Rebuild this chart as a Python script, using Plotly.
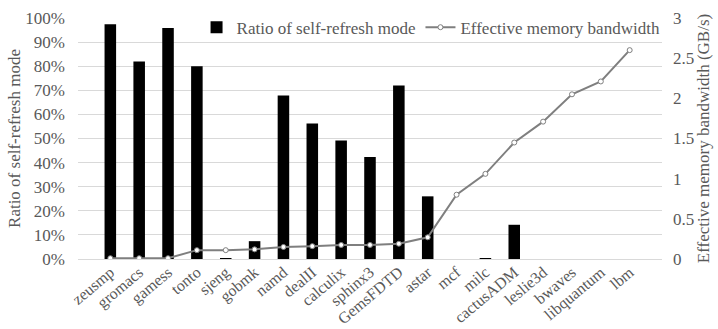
import plotly.graph_objects as go

benchmarks = ["zeusmp", "gromacs", "gamess", "tonto", "sjeng", "gobmk", "namd", "dealII",
              "calculix", "sphinx3", "GemsFDTD", "astar", "mcf", "milc", "cactusADM",
              "leslie3d", "bwaves", "libquantum", "lbm"]
self_refresh_ratio = [0.974, 0.820, 0.958, 0.800, 0.004, 0.074, 0.678, 0.562,
                      0.492, 0.423, 0.720, 0.260, 0.0, 0.004, 0.142,
                      0.0, 0.0, 0.0, 0.0]
bandwidth_gbs = [0.01, 0.01, 0.01, 0.11, 0.11, 0.12, 0.15, 0.16,
                 0.175, 0.175, 0.19, 0.27, 0.80, 1.06, 1.45,
                 1.71, 2.05, 2.21, 2.60]

FONT = "Times New Roman, Liberation Serif, DejaVu Serif, serif"
GREY_TXT = "#595959"
GRID = "#d9d9d9"
FS = 17

fig = go.Figure()
fig.add_trace(go.Bar(
    x=benchmarks, y=self_refresh_ratio, name="Ratio of self-refresh mode",
    marker=dict(color="black", line=dict(width=0)),
    yaxis="y",
))
fig.add_trace(go.Scatter(
    x=benchmarks, y=bandwidth_gbs, name="Effective memory bandwidth",
    mode="lines+markers",
    line=dict(color="#7f7f7f", width=2),
    marker=dict(symbol="circle", size=5, color="white",
                line=dict(color="#7f7f7f", width=1)),
    yaxis="y2",
))

fig.update_layout(
    width=718, height=329,
    margin=dict(l=78, r=56, t=18, b=70, autoexpand=False),
    paper_bgcolor="white", plot_bgcolor="white",
    font=dict(family=FONT, size=FS, color=GREY_TXT),
    bargap=0.6,
    showlegend=True,
    legend=dict(orientation="h", x=0.203, y=0.96, xanchor="left", yanchor="middle",
                bgcolor="rgba(0,0,0,0)", font=dict(family=FONT, size=FS, color=GREY_TXT),
                itemwidth=30, tracegroupgap=0, traceorder="normal"),
    xaxis=dict(
        tickangle=-40, showgrid=False, ticks="", showline=False, automargin=False,
        tickfont=dict(family=FONT, size=16, color=GREY_TXT),
    ),
    yaxis=dict(
        range=[0, 1], tickformat=".0%", dtick=0.1, automargin=False,
        showgrid=True, gridcolor=GRID, gridwidth=1, zeroline=True,
        zerolinecolor=GRID, zerolinewidth=1,
        ticks="", ticklabelstandoff=12,
        tickfont=dict(family=FONT, size=FS, color=GREY_TXT),
        title=dict(text="Ratio of self-refresh mode",
                   font=dict(family=FONT, size=FS, color=GREY_TXT), standoff=0),
    ),
    yaxis2=dict(
        range=[0, 3], dtick=0.5, overlaying="y", side="right", automargin=False,
        showgrid=False, zeroline=False, ticks="", ticklabelstandoff=10,
        tickfont=dict(family=FONT, size=FS, color=GREY_TXT),
        title=dict(text="Effective memory bandwidth (GB/s)",
                   font=dict(family=FONT, size=FS, color=GREY_TXT), standoff=0),
    ),
)

fig.write_html("out.html")
